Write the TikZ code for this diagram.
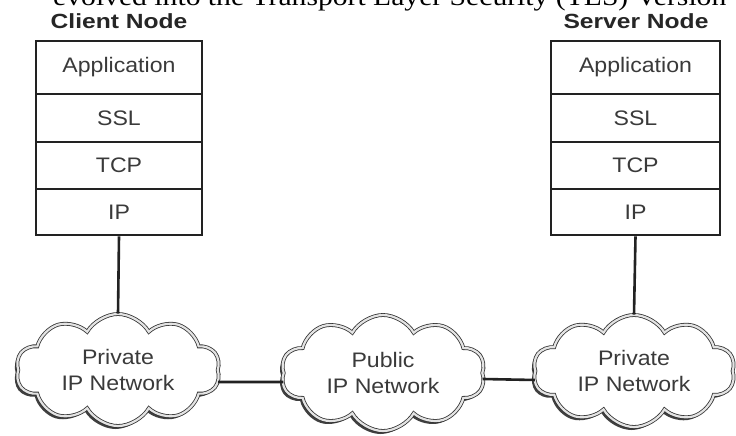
\documentclass[tikz,border=0pt]{standalone}
\usepackage{fontspec}
\setmainfont{Liberation Sans}
\newfontfamily\lab[FakeStretch=1.1]{Liberation Sans}
\newfontfamily\labb[FakeStretch=1.2]{Liberation Sans}
\newfontfamily\tms[FakeStretch=1.14]{Liberation Serif}
\usetikzlibrary{shapes.symbols,shadows}
\definecolor{txt}{HTML}{3A3A3A}
\definecolor{edge}{HTML}{222222}
\begin{document}
\begin{tikzpicture}[x=1pt,y=-1pt,
  layer/.style={draw=edge, line width=2.6pt, fill=white, minimum width=166pt, inner sep=0pt,
    font=\lab\fontsize{21}{24}\selectfont, text=txt},
  title/.style={font=\labb\bfseries\fontsize{20.5}{22}\selectfont, text=black!85},
  net/.style={cloud, cloud puffs=10, cloud puff arc=120, aspect=1.85, inner sep=0pt,
    draw=gray!40!black, line width=0.8pt, double=gray!22, double distance=2.2pt, fill=white,
    general shadow={shadow xshift=-2.5pt, shadow yshift=-3pt, fill=black!75},
    font=\lab\fontsize{21}{26}\selectfont, text=txt, align=center},
  link/.style={draw=edge, line width=2.6pt}]
\useasboundingbox (0,0) rectangle (736,436);
\clip (0,0) rectangle (736,436);
\fill[white] (0,0) rectangle (736,436);
\node[anchor=base west, inner sep=0pt, font=\tms\fontsize{26}{28}\selectfont] (top) at (53,6)
  {evolved into the Transport Layer Security (TLS) Version};
% client
\node[title] (ct) at (119,21) {Client Node};
\node[layer, minimum height=53pt] (ca) at (119,67.5) {Application};
\node[layer, minimum height=48pt] (cs) at (119,118) {SSL};
\node[layer, minimum height=47pt] (cc) at (119,165.5) {TCP};
\node[layer, minimum height=46pt] (ci) at (119,212) {IP};
% server
\node[title] (st) at (636,21) {Server Node};
\node[layer, minimum height=53pt, minimum width=169pt] (sa) at (635.5,67.5) {Application};
\node[layer, minimum height=48pt, minimum width=169pt] (ss) at (635.5,118) {SSL};
\node[layer, minimum height=47pt, minimum width=169pt] (sc) at (635.5,165.5) {TCP};
\node[layer, minimum height=46pt, minimum width=169pt] (si) at (635.5,212) {IP};
% clouds
\node[net, minimum width=204pt, minimum height=112pt] (lc) at (118,370) {Private\\IP Network};
\node[net, minimum width=204pt, minimum height=116pt] (pc) at (383,373) {Public\\IP Network};
\node[net, minimum width=202pt, minimum height=112pt] (rc) at (634,371) {Private\\IP Network};
% links
\draw[link] (ci.south) -- (lc.north);
\draw[link] (si.south) -- (rc.north);
\draw[link] ([yshift=-12pt]lc.east) -- ([yshift=-9pt]pc.west);
\draw[link] ([yshift=-6pt]pc.east) -- ([yshift=-9pt]rc.west);
\end{tikzpicture}
\end{document}
